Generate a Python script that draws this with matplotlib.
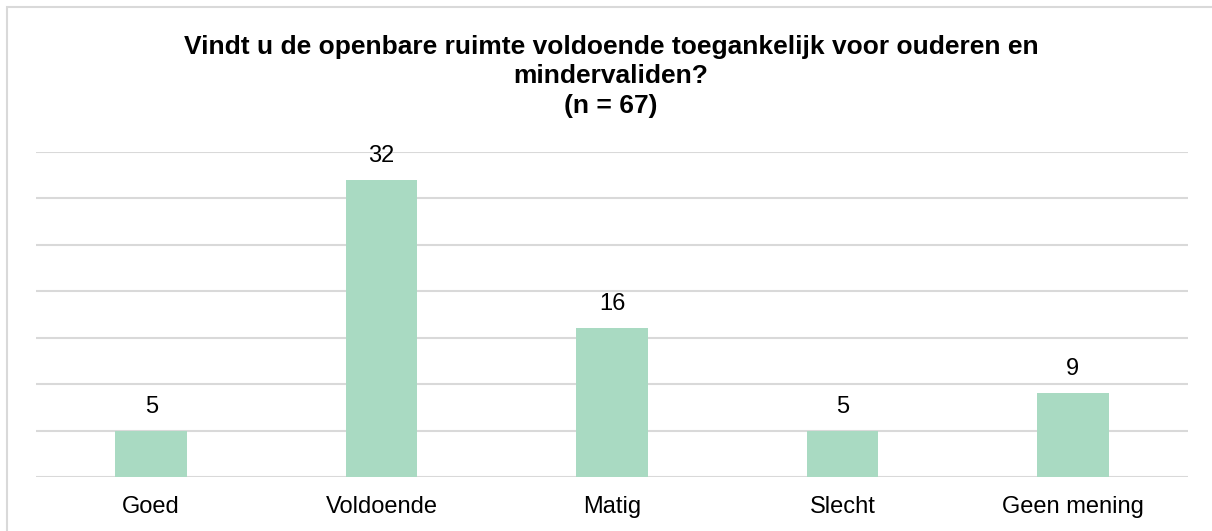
# Toegankelijkheid openbare ruimte - staafdiagram
import matplotlib
matplotlib.use("Agg")
import matplotlib.pyplot as plt
from matplotlib.patches import Rectangle

categories = ["Goed", "Voldoende", "Matig", "Slecht", "Geen mening"]
counts = [5, 32, 16, 5, 9]
title = "Vindt u de openbare ruimte voldoende toegankelijk voor ouderen en\nmindervaliden?\n(n = 67)"

W, H = 1212, 531
plt.rcParams["font.family"] = ["Liberation Sans", "DejaVu Sans"]

fig = plt.figure(figsize=(W / 100, H / 100), dpi=100)
ax = fig.add_axes([36 / W, (H - 477) / H, (1188 - 36) / W, (477 - 152) / H])

# light frame around the chart (only left and top visible)
fig.patches.append(Rectangle((7 / W, -0.2), 1.5, 1 - 7 / H + 0.2,
                             transform=fig.transFigure, fill=False,
                             edgecolor="#D9D9D9", linewidth=1.5))

x = range(len(categories))
bars = ax.bar(x, counts, width=0.31, color="#A9DAC2", zorder=2)

ax.set_ylim(0, 35)
ax.set_xlim(-0.5, len(categories) - 0.5)
ax.set_yticks(range(0, 36, 5))
ax.yaxis.grid(True, color="#D9D9D9", linewidth=1.5, zorder=0)
ax.set_axisbelow(True)
ax.tick_params(axis="y", left=False, labelleft=False)
ax.tick_params(axis="x", length=0, pad=14, labelsize=17)
ax.set_xticks(list(x))
ax.set_xticklabels(categories)
for s in ax.spines.values():
    s.set_visible(False)

for xi, v in zip(x, counts):
    ax.annotate(str(v), (xi, v), xytext=(0, 13), textcoords="offset points",
                ha="center", va="baseline", fontsize=17)

# baseline alignment here is the last line of the title
fig.text(611 / W, 1 - 113 / H, title, ha="center", va="baseline",
         fontsize=19, fontweight="bold", linespacing=1.3)

fig.savefig("out.png", dpi=100)
